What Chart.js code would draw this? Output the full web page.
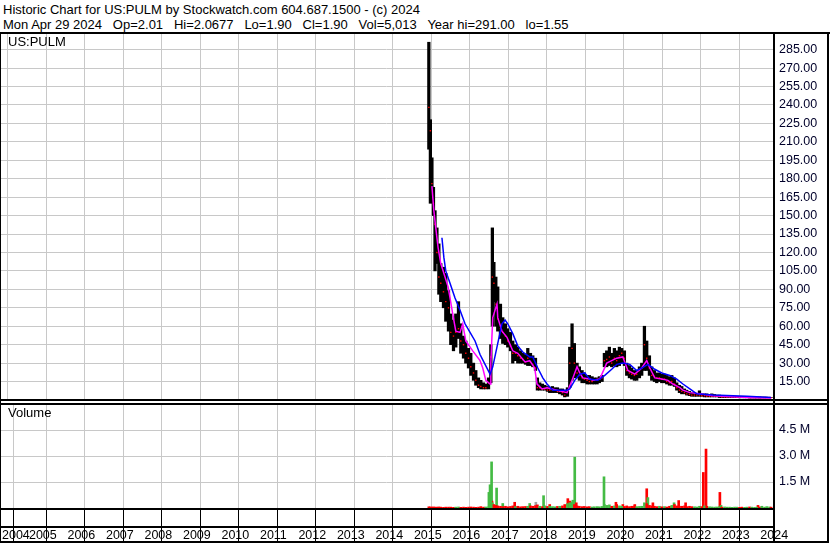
<!DOCTYPE html>
<html>
<head>
<meta charset="utf-8">
<script src="https://cdn.jsdelivr.net/npm/chart.js@4.4.1/dist/chart.umd.min.js"></script>
<style>
html, body { margin: 0; padding: 0; background: #fff; }
#wrap { position: relative; width: 830px; height: 543px; overflow: hidden; font-family: 'Liberation Sans', Arial, sans-serif; }
.hdr { position: absolute; left: 3px; font-size: 13px; line-height: 15px; color: #000; white-space: pre; }
.lbl { position: absolute; left: 8px; font-size: 13px; line-height: 15px; color: #000; }
.ln { position: absolute; background: #000; }
.panel { position: absolute; left: 0; width: 830px; }
</style>
</head>
<body>
<div id="wrap">
  <div class="hdr" style="top:2px">Historic Chart for US:PULM by Stockwatch.com 604.687.1500 - (c) 2024</div>
  <div class="hdr" style="top:17px">Mon Apr 29 2024   Op=2.01   Hi=2.0677   Lo=1.90   Cl=1.90   Vol=5,013   Year hi=291.00   lo=1.55</div>

  <div class="panel" style="top:34px;height:366px"><canvas id="priceChart"></canvas></div>
  <div class="panel" style="top:402px;height:141px"><canvas id="volumeChart"></canvas></div>

  <!-- frame lines -->
  <div class="ln" style="left:0;top:32px;width:830px;height:2px"></div>
  <div class="ln" style="left:0;top:32px;width:1px;height:511px"></div>
  <div class="ln" style="left:773px;top:34px;width:2px;height:509px"></div>
  <div class="ln" style="left:827px;top:32px;width:2px;height:511px"></div>
  <div class="ln" style="left:0;top:399px;width:829px;height:2px"></div>
  <div class="ln" style="left:0;top:403px;width:829px;height:2px"></div>
  <div class="ln" style="left:0;top:508px;width:775px;height:2px"></div>
  <div class="ln" style="left:0;top:526px;width:775px;height:2px"></div>
  <div class="ln" style="left:0;top:541px;width:829px;height:2px"></div>

  <div class="lbl" style="top:34px">US:PULM</div>
  <div class="lbl" style="top:405px">Volume</div>
</div>

<script>
// Axis range (decimal years) and tick labels
const xMin = 2004.30;
const xMax = 2024.38;
const yearTicks = [2005, 2006, 2007, 2008, 2009, 2010, 2011, 2012, 2013, 2014,
                   2015, 2016, 2017, 2018, 2019, 2020, 2021, 2022, 2023, 2024];
const priceTicks = [15, 30, 45, 60, 75, 90, 105, 120, 135, 150, 165, 180, 195,
                    210, 225, 240, 255, 270, 285];
const volumeTicks = [1.5, 3.0, 4.5];

// Price bars (roughly 3-4 weeks per bar)
const dates = [
  2015.44, 2015.48, 2015.52, 2015.56, 2015.60, 2015.65, 2015.70, 2015.75, 2015.82, 2015.88, 2015.95,
  2016.01, 2016.08, 2016.14, 2016.21, 2016.27, 2016.34, 2016.40, 2016.47, 2016.53, 2016.60, 2016.66, 2016.73, 2016.79, 2016.86, 2016.92, 2016.99,
  2017.05, 2017.09, 2017.13, 2017.18, 2017.23, 2017.30, 2017.36, 2017.43, 2017.49, 2017.56, 2017.62, 2017.69, 2017.75, 2017.82, 2017.88, 2017.95,
  2018.01, 2018.08, 2018.14, 2018.21, 2018.26, 2018.32, 2018.39, 2018.45, 2018.52, 2018.58, 2018.65, 2018.71, 2018.78, 2018.84, 2018.91, 2018.97,
  2019.04, 2019.10, 2019.16, 2019.22, 2019.29, 2019.35, 2019.42, 2019.48, 2019.55, 2019.61, 2019.68, 2019.74, 2019.81, 2019.87, 2019.94,
  2020.00, 2020.06, 2020.13, 2020.19, 2020.26, 2020.32, 2020.39, 2020.45, 2020.52, 2020.58, 2020.65, 2020.71, 2020.78, 2020.84, 2020.91, 2020.97,
  2021.04, 2021.10, 2021.17, 2021.23, 2021.30, 2021.36, 2021.43, 2021.49, 2021.56, 2021.62, 2021.69, 2021.75, 2021.82, 2021.88, 2021.95,
  2022.01, 2022.08, 2022.14, 2022.21, 2022.27, 2022.34, 2022.40, 2022.47, 2022.53, 2022.60, 2022.66, 2022.73, 2022.79, 2022.86, 2022.92, 2022.99,
  2023.05, 2023.12, 2023.18, 2023.25, 2023.31, 2023.38, 2023.44, 2023.51, 2023.57, 2023.64, 2023.70, 2023.77, 2023.83, 2023.90, 2023.96,
  2024.03, 2024.09, 2024.16, 2024.22, 2024.29, 2024.33
];
const highs = [
  291, 228, 197, 173, 154, 140, 127, 111, 108, 103, 89,
  70, 65, 70, 80, 62, 52, 48, 42, 38, 30, 24, 18, 16, 14, 13, 18,
  45, 140, 112, 100, 92, 78, 67, 62, 58, 55, 48, 45, 43, 40, 38, 37,
  42, 38, 36, 34, 18, 14, 13, 12, 11, 10, 11, 10, 10, 9, 9, 8,
  10, 43, 62, 46, 30, 27, 24, 22, 20, 20, 19, 18, 18, 19, 20,
  38, 40, 43, 38, 42, 40, 43, 42, 40, 30, 28, 26, 24, 24, 27, 30,
  60, 48, 36, 27, 24, 22, 22, 21, 21, 20, 19, 20, 18, 14, 12,
  11, 9, 8, 7, 6, 6, 5.5, 7.5, 5, 5, 5, 4.5, 5, 4.5, 4, 4,
  3.5, 3.5, 3.5, 3, 3, 3, 3, 3, 3, 2.8, 2.8, 2.8, 2.6, 2.6, 2.5,
  2.5, 2.4, 2.4, 2.3, 2.2, 2.07
];
const lows = [
  204, 160, 165, 150, 105, 111, 86, 80, 75, 64, 56,
  45, 40, 43, 50, 38, 34, 30, 26, 20, 16, 12, 10, 9, 9, 9, 9,
  14, 60, 80, 60, 56, 50, 46, 45, 43, 40, 30, 32, 30, 30, 30, 29,
  28, 28, 27, 24, 8, 8, 8, 8, 7, 6, 6, 6, 6, 5, 4, 2.5,
  3, 10, 16, 18, 18, 16, 14, 14, 13, 13, 13, 13, 13, 14, 15,
  27, 27, 28, 27, 28, 27, 28, 30, 28, 20, 18, 17, 16, 16, 18, 20,
  24, 24, 20, 16, 15, 14, 15, 14, 14, 13, 12, 12, 11, 8, 6,
  5, 5, 4, 3.5, 3, 3, 3, 3, 3, 2.5, 2.5, 2.5, 2.5, 2.5, 2.5, 2,
  2, 2, 2, 2, 2, 2, 2, 1.8, 1.8, 1.8, 1.8, 1.6, 1.6, 1.6, 1.6,
  1.55, 1.6, 1.6, 1.7, 1.8, 1.9
];
const closes = [
  238, 219, 176, 160, 143, 120, 100, 95, 88, 80, 75,
  55, 52, 55, 58, 48, 45, 38, 34, 27, 22, 16, 12, 11, 10, 10, 14,
  35, 100, 95, 78, 66, 58, 55, 52, 48, 44, 38, 38, 36, 34, 33, 31,
  34, 31, 29, 26, 10, 10, 9, 9, 8, 8, 8, 8, 7, 7, 6, 4,
  8, 30, 42, 30, 22, 20, 18, 17, 16, 15, 15, 16, 16, 17, 18,
  32, 33, 35, 30, 34, 32, 36, 38, 34, 24, 22, 21, 20, 21, 24, 26,
  45, 34, 26, 20, 19, 18, 18, 17, 17, 15, 14, 15, 13, 10, 8,
  7, 6, 5, 4.5, 4, 4, 4, 4, 3.5, 3.5, 3, 3, 3, 3, 3, 3,
  2.5, 2.5, 2.5, 2.5, 2.5, 2.5, 2.5, 2.3, 2.2, 2.2, 2.2, 2, 2, 2, 2,
  1.9, 2, 2, 2, 2, 1.9
];

// Short moving average (magenta)
const shortMaDates = [
  2015.52, 2015.57, 2015.62, 2015.68, 2015.75, 2015.86, 2015.94, 2015.99, 2016.06, 2016.14,
  2016.25, 2016.32, 2016.40, 2016.58, 2016.77, 2016.84, 2016.92, 2017.03, 2017.05, 2017.10,
  2017.21, 2017.23, 2017.34, 2017.47, 2017.62, 2017.75, 2017.94, 2018.06, 2018.19, 2018.25,
  2018.38, 2018.51, 2018.77, 2019.03, 2019.16, 2019.29, 2019.36, 2019.44, 2019.62, 2019.70,
  2019.88, 2020.06, 2020.19, 2020.32, 2020.48, 2020.61, 2020.79, 2020.97, 2021.10, 2021.18,
  2021.31, 2021.49, 2021.65, 2021.78, 2021.96, 2022.04, 2022.22, 2022.48, 2022.82, 2023.70,
  2024.33
];
const shortMa = [
  174, 154, 140, 124, 111, 100, 92, 83, 70, 56,
  55, 62, 48, 40, 32, 26, 16, 13, 30, 67,
  78, 67, 56, 51, 40, 38, 31, 32, 26, 13,
  9, 10, 8, 6, 16, 27, 22, 18, 17, 16,
  17, 30, 32, 34, 35, 24, 21, 26, 32, 26,
  18, 17, 16, 13, 10, 8, 6, 5, 3.5, 2,
  1.6
];

// Long moving average (blue)
const longMaDates = [
  2015.78, 2015.83, 2015.88, 2015.99, 2016.12, 2016.25, 2016.38, 2016.51, 2016.64, 2016.77,
  2016.90, 2017.03, 2017.10, 2017.23, 2017.34, 2017.42, 2017.49, 2017.62, 2017.75, 2017.88,
  2018.06, 2018.14, 2018.27, 2018.40, 2018.51, 2018.66, 2019.03, 2019.10, 2019.23, 2019.36,
  2019.49, 2019.62, 2019.83, 2020.01, 2020.19, 2020.32, 2020.48, 2020.66, 2020.84, 2020.97,
  2021.13, 2021.31, 2021.49, 2021.70, 2021.88, 2022.04, 2022.22, 2022.40, 2022.82, 2023.70,
  2024.33
];
const longMa = [
  132, 116, 105, 95, 83, 73, 62, 55, 48, 37,
  29, 21, 27, 46, 62, 65, 62, 54, 44, 39,
  35, 35, 26, 18, 13, 8, 8, 9, 16, 21,
  22, 17, 16, 20, 25, 29, 30, 29, 24, 26,
  29, 25, 22, 20, 17, 13, 9, 5, 4, 3,
  2
];

// Volume (millions): background volume for each price bar, plus the spikes
const baseVolume = [
  0.07, 0.06, 0.05, 0.06, 0.05, 0.05, 0.06, 0.05, 0.04, 0.05, 0.05,
  0.05, 0.04, 0.05, 0.06, 0.04, 0.05, 0.04, 0.05, 0.06, 0.05, 0.04, 0.05, 0.08, 0.05, 0.06, 0.07,
  0.5, 0.3, 0.2, 0.15, 0.12, 0.1, 0.08, 0.1, 0.07, 0.09, 0.12, 0.08, 0.1, 0.07, 0.08, 0.09,
  0.1, 0.12, 0.1, 0.14, 0.18, 0.1, 0.08, 0.12, 0.09, 0.1, 0.08, 0.07, 0.09, 0.1, 0.12, 0.2,
  0.25, 0.3, 0.35, 0.2, 0.12, 0.1, 0.08, 0.09, 0.07, 0.08, 0.06, 0.07, 0.08, 0.07, 0.09,
  0.2, 0.15, 0.18, 0.1, 0.12, 0.2, 0.12, 0.1, 0.09, 0.12, 0.08, 0.1, 0.12, 0.08, 0.09, 0.1,
  0.3, 0.25, 0.15, 0.12, 0.1, 0.08, 0.1, 0.07, 0.08, 0.06, 0.1, 0.15, 0.2, 0.12, 0.1,
  0.1, 0.12, 0.08, 0.1, 0.08, 0.07, 0.06, 0.1, 0.08, 0.12, 0.1, 0.07, 0.06, 0.05, 0.06, 0.08,
  0.05, 0.06, 0.05, 0.05, 0.04, 0.05, 0.05, 0.04, 0.05, 0.04, 0.05, 0.06, 0.05, 0.04, 0.05,
  0.06, 0.1, 0.05, 0.08, 0.06, 0.05
];
const spikeDates = [
  2017.00, 2017.03, 2017.07, 2017.08, 2017.20, 2017.36, 2017.67, 2018.06, 2018.22, 2018.42,
  2018.58, 2019.05, 2019.10, 2019.18, 2019.23, 2019.27, 2019.99, 2020.30, 2020.48, 2020.79,
  2021.10, 2021.13, 2021.26, 2021.81, 2021.93, 2022.11, 2022.57, 2022.64, 2023.00, 2023.03,
  2023.99
];
const spikeVolume = [
  0.9, 1.34, 2.66, 0.4, 1.15, 0.26, 0.33, 0.26, 0.33, 0.71,
  0.2, 0.54, 0.4, 0.45, 2.93, 0.3, 1.8, 0.33, 0.2, 0.2,
  1.11, 0.6, 0.3, 0.3, 0.43, 0.3, 2.05, 3.4, 0.9, 0.15,
  0.15
];
// u = up day (green), d = down day (red), f = unchanged (grey)
const spikeDirection = [
  'u', 'u', 'u', 'd', 'u', 'u', 'd', 'u', 'f', 'u',
  'd', 'd', 'd', 'u', 'u', 'd', 'u', 'd', 'd', 'd',
  'd', 'u', 'd', 'u', 'd', 'd', 'd', 'd', 'd', 'u',
  'd'
];

const UP = '#44bb44', DOWN = '#ff0000', FLAT = '#a0a0a0';
const GRID = '#c8c8c8';
const AXIS_TEXT = '#00002a';

Chart.defaults.font.family = "'Liberation Sans', Arial, sans-serif";
Chart.defaults.font.size = 12.5;
Chart.defaults.color = '#000';

// force a scale's size and drop the label padding chart.js adds round the plot
const fixSize = (w, h) => scale => {
  if (w !== null) scale.width = w;
  if (h !== null) scale.height = h;
  scale.paddingTop = 0;
  scale.paddingBottom = 0;
  scale.paddingLeft = 0;
  scale.paddingRight = 0;
};

// ---------- price panel ----------
new Chart(document.getElementById('priceChart'), {
  type: 'bar',
  data: {
    datasets: [
      {
        type: 'line',
        data: longMaDates.map((d, i) => ({ x: d, y: longMa[i] })),
        borderColor: '#0000ff',
        borderWidth: 1.5,
        pointRadius: 0,
        tension: 0,
        order: 1
      },
      {
        type: 'line',
        data: shortMaDates.map((d, i) => ({ x: d, y: shortMa[i] })),
        borderColor: '#ff00ff',
        borderWidth: 1.5,
        pointRadius: 0,
        tension: 0,
        order: 2
      },
      {
        type: 'line',
        data: dates.map((d, i) => ({ x: d, y: closes[i] })),
        showLine: false,
        pointStyle: 'rect',
        pointRadius: 1,
        pointBorderWidth: 0,
        pointBackgroundColor: '#ff0000',
        order: 3
      },
      {
        type: 'bar',
        data: dates.map((d, i) => ({ x: d, y: [lows[i], highs[i]] })),
        backgroundColor: '#000',
        barThickness: 2.6,
        order: 4
      }
    ]
  },
  options: {
    responsive: true,
    maintainAspectRatio: false,
    animation: false,
    events: [],
    layout: { padding: 0, autoPadding: false },
    plugins: { legend: { display: false }, tooltip: { enabled: false } },
    scales: {
      x: {
        type: 'linear',
        min: xMin,
        max: xMax,
        offset: false,
        afterBuildTicks: s => { s.ticks = yearTicks.map(v => ({ value: v })); },
        afterFit: fixSize(null, 0),
        ticks: { display: false },
        grid: { color: GRID, drawTicks: false },
        border: { display: false }
      },
      y: {
        position: 'right',
        min: 0,
        max: 297.7,
        afterBuildTicks: s => { s.ticks = priceTicks.map(v => ({ value: v })); },
        afterFit: fixSize(57, null),
        ticks: {
          padding: 6,
          color: AXIS_TEXT,
          callback: v => v.toFixed(2)
        },
        grid: { color: GRID, drawTicks: false },
        border: { display: false }
      }
    }
  }
});

// ---------- volume panel + date axis ----------
const baseColors = closes.map((c, i) => (i > 0 && c >= closes[i - 1]) ? UP : DOWN);
const spikeColors = spikeDirection.map(d => d === 'u' ? UP : d === 'd' ? DOWN : FLAT);

new Chart(document.getElementById('volumeChart'), {
  type: 'bar',
  data: {
    datasets: [
      {
        data: dates.map((d, i) => ({ x: d, y: baseVolume[i] })),
        backgroundColor: baseColors,
        barThickness: 2,
        grouped: false
      },
      {
        data: spikeDates.map((d, i) => ({ x: d, y: spikeVolume[i] })),
        backgroundColor: spikeColors,
        barThickness: 2,
        grouped: false
      }
    ]
  },
  options: {
    responsive: true,
    maintainAspectRatio: false,
    animation: false,
    events: [],
    layout: { padding: { top: 2, left: 0, right: 0, bottom: 0 }, autoPadding: false },
    plugins: { legend: { display: false }, tooltip: { enabled: false } },
    scales: {
      x: {
        type: 'linear',
        min: xMin,
        max: xMax,
        offset: false,
        afterBuildTicks: s => { s.ticks = [xMin].concat(yearTicks).map(v => ({ value: v })); },
        afterFit: fixSize(null, 35),
        ticks: {
          autoSkip: false,
          maxRotation: 0,
          align: 'start',
          labelOffset: 2,
          padding: -13,
          color: '#000',
          callback: v => v === xMin ? '2004' : String(v)
        },
        grid: { color: GRID, tickColor: '#000', tickLength: 33 },
        border: { display: false }
      },
      y: {
        position: 'right',
        min: 0,
        max: 6.0,
        afterBuildTicks: s => { s.ticks = volumeTicks.map(v => ({ value: v })); },
        afterFit: fixSize(57, null),
        ticks: {
          padding: 6,
          color: AXIS_TEXT,
          callback: v => v.toFixed(1) + ' M'
        },
        grid: { color: GRID, drawTicks: false },
        border: { display: false }
      }
    }
  }
});
</script>
</body>
</html>
